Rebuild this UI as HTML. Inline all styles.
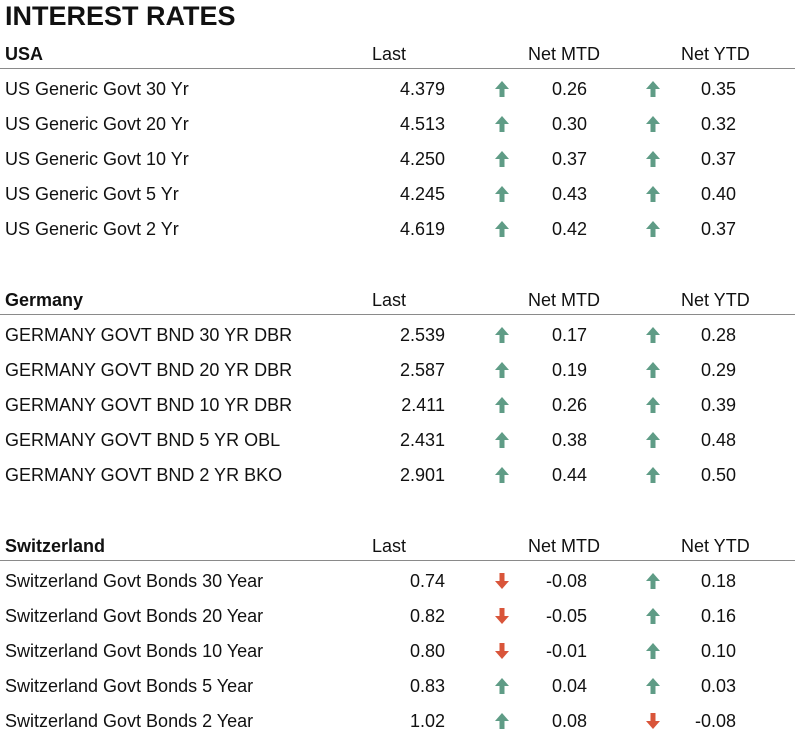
<!DOCTYPE html>
<html><head><meta charset="utf-8"><style>
body{margin:0;width:795px;height:736px;background:#fff;font-family:"Liberation Sans",sans-serif;color:#111;position:relative;overflow:hidden}
.t{position:absolute;white-space:nowrap;font-size:18px;line-height:20px}
.h{font-weight:bold}
.line{position:absolute;left:0;width:795px;height:1px;background:#8a8a8a}
svg.a{position:absolute}
</style></head><body>
<div class="t h" style="left:5px;top:2px;font-size:27px;line-height:28px">INTEREST RATES</div>
<div id="root"></div>
<script>
const sections=["USA","Germany","Switzerland"];
const names=[
["US Generic Govt 30 Yr","US Generic Govt 20 Yr","US Generic Govt 10 Yr","US Generic Govt 5 Yr","US Generic Govt 2 Yr"],
["GERMANY GOVT BND 30 YR DBR","GERMANY GOVT BND 20 YR DBR","GERMANY GOVT BND 10 YR DBR","GERMANY GOVT BND 5 YR OBL","GERMANY GOVT BND 2 YR BKO"],
["Switzerland Govt Bonds 30 Year","Switzerland Govt Bonds 20 Year","Switzerland Govt Bonds 10 Year","Switzerland Govt Bonds 5 Year","Switzerland Govt Bonds 2 Year"]];
const last=[["4.379","4.513","4.250","4.245","4.619"],["2.539","2.587","2.411","2.431","2.901"],["0.74","0.82","0.80","0.83","1.02"]];
const mtd=[["0.26","0.30","0.37","0.43","0.42"],["0.17","0.19","0.26","0.38","0.44"],["-0.08","-0.05","-0.01","0.04","0.08"]];
const ytd=[["0.35","0.32","0.37","0.40","0.37"],["0.28","0.29","0.39","0.48","0.50"],["0.18","0.16","0.10","0.03","-0.08"]];
const root=document.getElementById('root');
function txt(s,x,y,cls,right){const d=document.createElement('div');d.className='t '+cls;d.textContent=s;
if(right){d.style.right=(795-x)+'px';}else d.style.left=x+'px';d.style.top=(y-10)+'px';root.appendChild(d);return d;}
function arrow(x,y,up){const ns='http://www.w3.org/2000/svg';const s=document.createElementNS(ns,'svg');
s.setAttribute('class','a');s.setAttribute('width','16');s.setAttribute('height','18');
s.style.left=(x-8)+'px';s.style.top=(y-9)+'px';
const p=document.createElementNS(ns,'path');
p.setAttribute('d',up?'M8 1 L15 9 L10.5 9 L10.5 17 L5.5 17 L5.5 9 L1 9 Z':'M8 17 L15 9 L10.5 9 L10.5 1 L5.5 1 L5.5 9 L1 9 Z');
p.setAttribute('fill',up?'#5f9c86':'#d9553a');s.appendChild(p);root.appendChild(s);return s;}
sections.forEach((sec,si)=>{
 const hy=54+si*246;
 let e=txt(sec,5,hy,'h');
 e=txt('Last',372,hy,'');
 e=txt('Net MTD',528,hy,'');
 e=txt('Net YTD',681,hy,'');
 const l=document.createElement('div');l.className='line';l.style.top=(hy+14)+'px';
 root.appendChild(l);
 names[si].forEach((n,i)=>{
  const y=hy+35+i*35;
  e=txt(n,5,y,'');
  e=txt(last[si][i],445,y,'',true);
  const m=mtd[si][i],yv=ytd[si][i];
  e=arrow(502,y,parseFloat(m)>=0);
  e=txt(m,587,y,'',true);
  e=arrow(653,y,parseFloat(yv)>=0);
  e=txt(yv,736,y,'',true);
 });
});
</script>
</body></html>
